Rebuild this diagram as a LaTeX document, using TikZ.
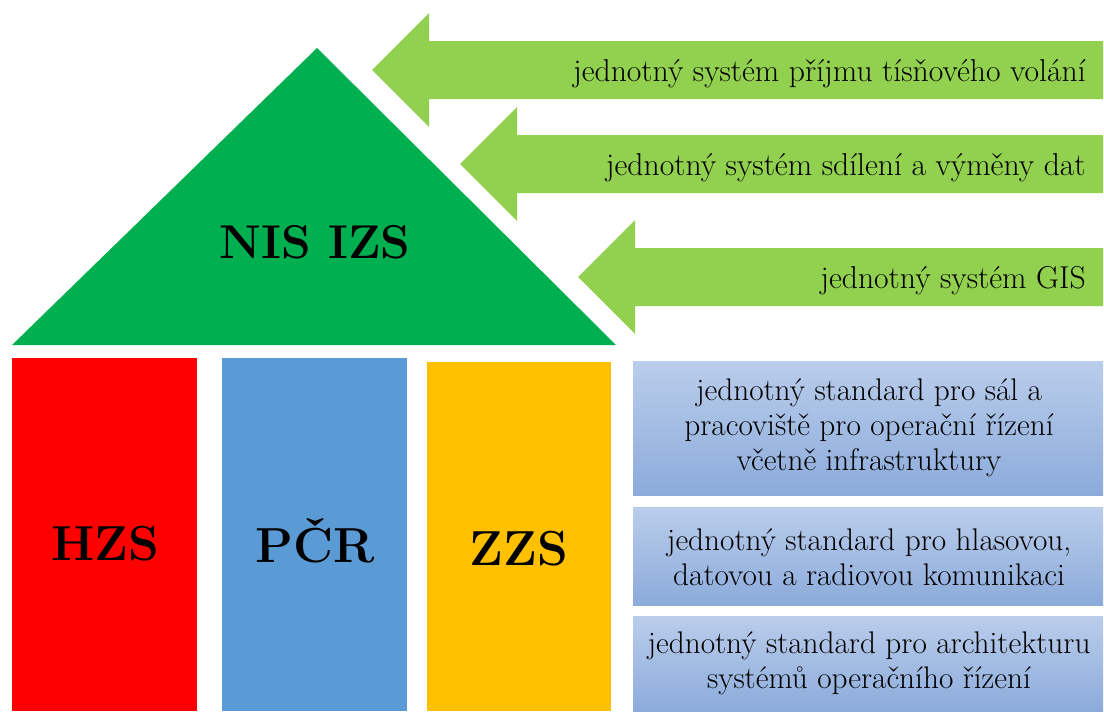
\documentclass[tikz,border=0pt]{standalone}
\usepackage{tikz}

\definecolor{roofgreen}{RGB}{0,176,80}
\definecolor{tabgreen}{RGB}{146,208,80}
\definecolor{hzsred}{RGB}{255,0,0}
\definecolor{pcrblue}{RGB}{91,155,213}
\definecolor{zzsyellow}{RGB}{255,192,0}
\definecolor{stdtop}{RGB}{186,205,235}
\definecolor{stdbottom}{RGB}{140,171,219}

\tikzset{
  roof/.style={font=\fontsize{27}{30}\selectfont\bfseries, inner sep=0pt, anchor=base},
  pillar/.style={font=\fontsize{28}{32}\selectfont\bfseries, inner sep=0pt, anchor=base},
  tabtext/.style={font=\fontsize{18}{21}\selectfont, inner sep=0pt, anchor=east},
  stdtext/.style={font=\fontsize{17.8}{20}\selectfont, align=center, inner sep=0pt},
  stdbox/.style={top color=stdtop, bottom color=stdbottom}
}

\begin{document}
\begin{tikzpicture}[x=0.02cm, y=-0.02cm]
  \useasboundingbox (0,0) rectangle (1104,711);
  \fill[white] (0,0) rectangle (1104,711);

  % the roof
  \fill[roofgreen] (317,48) -- (616,345) -- (12,345) -- cycle;
  \node[roof] (nis) at (315,258) {NIS IZS};

  % arrows into the roof
  \def\tab#1#2#3#4{%
    % #1 = tip x, #2 = centre y, #3 = node name, #4 = label
    \fill[tabgreen] (#1,#2) -- ++(57,-57) -- ++(0,28) -- (1103,#2-29)
      -- (1103,#2+29) -- (#1+57,#2+29) -- ++(0,28) -- cycle;
    \node[tabtext] (#3) at (1086,#2+4) {#4};
  }
  \tab{372}{70}{call}{jednotný systém příjmu tísňového volání}
  \tab{460}{164}{data}{jednotný systém sdílení a výměny dat}
  \tab{578}{277}{gis}{jednotný systém GIS}

  % the pillars
  \fill[hzsred] (12,358) rectangle (197,711);
  \fill[pcrblue] (222,358) rectangle (407,711);
  \fill[zzsyellow] (427,362) rectangle (611,711);
  \node[pillar] (hzs) at (105,560) {HZS};
  \node[pillar] (pcr) at (315,562) {PČR};
  \node[pillar] (zzs) at (519,565) {ZZS};

  % standards
  \shade[stdbox] (633,361) rectangle (1103,495);
  \shade[stdbox] (633,507) rectangle (1103,605);
  \shade[stdbox] (633,616) rectangle (1103,711);
  \node[stdtext] (hall) at (869,428) {jednotný standard pro sál a\\pracoviště pro operační řízení\\včetně infrastruktury};
  \node[stdtext] (radio) at (869,557) {jednotný standard pro hlasovou,\\datovou a radiovou komunikaci};
  \node[stdtext] (arch) at (869,663) {jednotný standard pro architekturu\\systémů operačního řízení};

\end{tikzpicture}
\end{document}
